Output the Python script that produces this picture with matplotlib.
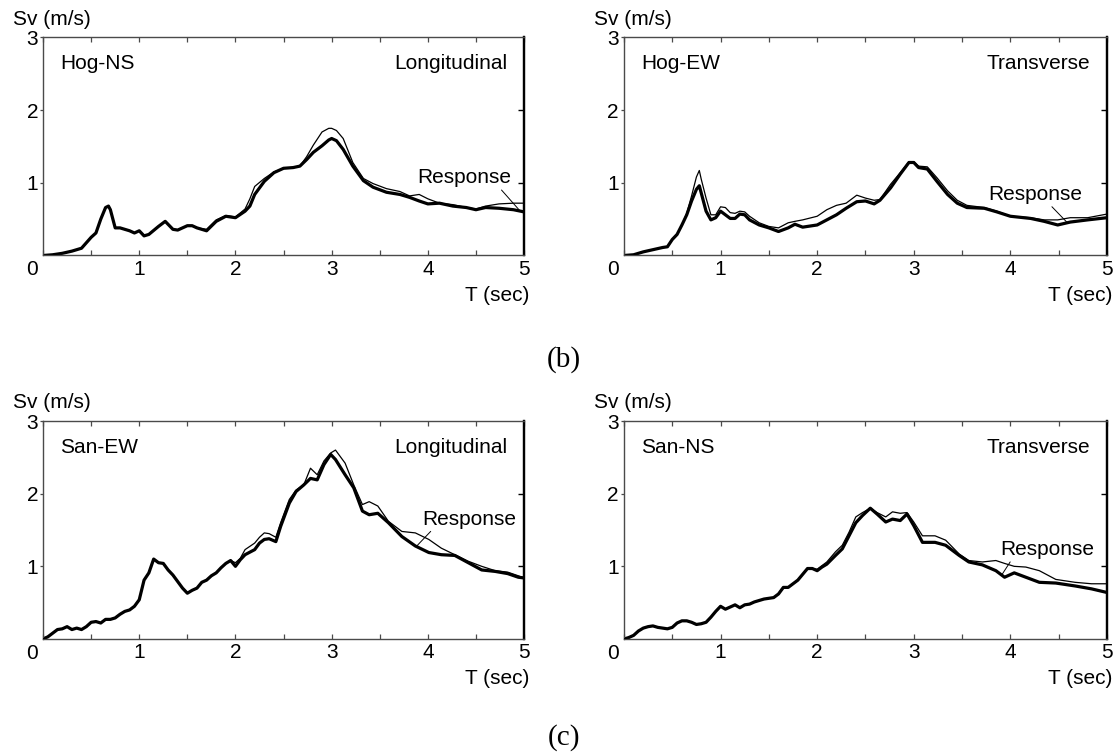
import matplotlib.pyplot as plt
from matplotlib.ticker import MultipleLocator, FixedLocator, NullFormatter
import numpy as np

plt.rcParams['font.family'] = ['Liberation Sans', 'DejaVu Sans']
plt.rcParams['font.size'] = 15

# Hog-NS record, longitudinal direction
hog_ns_t = [0, 0.1, 0.2, 0.3, 0.4, 0.5, 0.55, 0.6, 0.65, 0.68, 0.7, 0.75, 0.8, 0.85, 0.9,
            0.95, 1.0, 1.05, 1.1, 1.2, 1.27, 1.35, 1.4, 1.5, 1.55, 1.6, 1.7, 1.8, 1.9, 2.0,
            2.1, 2.15, 2.2, 2.3, 2.4, 2.5, 2.6, 2.67, 2.74, 2.81, 2.9, 2.97, 3.0, 3.05, 3.12,
            3.22, 3.33, 3.43, 3.57, 3.71, 3.81, 3.91, 4.0, 4.12, 4.26, 4.4, 4.5, 4.6, 4.74,
            4.89, 5.0]
hog_ns_resp = [0, 0.01, 0.03, 0.06, 0.1, 0.25, 0.31, 0.5, 0.66, 0.68, 0.63, 0.38, 0.38, 0.36, 0.34,
               0.31, 0.34, 0.27, 0.29, 0.4, 0.47, 0.36, 0.35, 0.41, 0.41, 0.38, 0.34, 0.47, 0.54, 0.52,
               0.61, 0.68, 0.84, 1.02, 1.14, 1.2, 1.21, 1.23, 1.32, 1.42, 1.51, 1.59, 1.61, 1.58, 1.46,
               1.23, 1.03, 0.94, 0.87, 0.84, 0.8, 0.75, 0.71, 0.72, 0.68, 0.66, 0.63, 0.66, 0.65,
               0.63, 0.6]
hog_ns_other = [0, 0.01, 0.03, 0.06, 0.1, 0.25, 0.31, 0.5, 0.66, 0.68, 0.63, 0.38, 0.38, 0.36, 0.34,
                0.31, 0.34, 0.27, 0.29, 0.4, 0.47, 0.36, 0.35, 0.41, 0.41, 0.38, 0.36, 0.49, 0.55, 0.53,
                0.64, 0.78, 0.95, 1.06, 1.15, 1.2, 1.21, 1.23, 1.36, 1.52, 1.7, 1.75, 1.75, 1.72, 1.61,
                1.28, 1.06, 0.99, 0.92, 0.88, 0.82, 0.84, 0.78, 0.72, 0.7, 0.66, 0.64, 0.68, 0.71,
                0.72, 0.72]

# Hog-EW record, transverse direction
hog_ew_t = [0, 0.1, 0.2, 0.3, 0.4, 0.45, 0.5, 0.55, 0.6, 0.65, 0.7, 0.75, 0.78, 0.8, 0.85,
            0.9, 0.95, 1.0, 1.05, 1.1, 1.15, 1.2, 1.25, 1.3, 1.4, 1.5, 1.6, 1.7, 1.77, 1.85,
            2.0, 2.1, 2.2, 2.3, 2.41, 2.5, 2.59, 2.65, 2.76, 2.86, 2.95, 3.0, 3.05, 3.14, 3.24,
            3.35, 3.45, 3.55, 3.73, 3.86, 4.0, 4.21, 4.35, 4.49, 4.62, 4.8, 5.0]
hog_ew_resp = [0, 0.01, 0.05, 0.08, 0.11, 0.12, 0.22, 0.29, 0.42, 0.56, 0.75, 0.91, 0.96, 0.86, 0.61,
               0.49, 0.52, 0.61, 0.56, 0.51, 0.51, 0.57, 0.56, 0.49, 0.42, 0.38, 0.33, 0.38, 0.43, 0.39,
               0.42, 0.49, 0.56, 0.65, 0.74, 0.75, 0.71, 0.76, 0.93, 1.12, 1.28, 1.28, 1.21, 1.19, 1.02,
               0.84, 0.72, 0.66, 0.65, 0.6, 0.54, 0.51, 0.47, 0.42, 0.46, 0.49, 0.52]
hog_ew_other = [0, 0.01, 0.05, 0.08, 0.11, 0.12, 0.22, 0.29, 0.42, 0.58, 0.82, 1.08, 1.17, 1.05, 0.79,
                0.56, 0.56, 0.67, 0.66, 0.59, 0.58, 0.61, 0.6, 0.54, 0.45, 0.4, 0.38, 0.45, 0.47, 0.49,
                0.54, 0.63, 0.69, 0.72, 0.83, 0.79, 0.76, 0.77, 0.98, 1.14, 1.29, 1.29, 1.23, 1.22, 1.07,
                0.89, 0.76, 0.69, 0.66, 0.61, 0.54, 0.52, 0.49, 0.49, 0.52, 0.52, 0.57]

# San-EW record, longitudinal direction
san_ew_t = [0, 0.05, 0.1, 0.15, 0.2, 0.25, 0.3, 0.35, 0.4, 0.45, 0.5, 0.55, 0.6, 0.65, 0.7,
            0.75, 0.8, 0.85, 0.9, 0.95, 1.0, 1.05, 1.1, 1.15, 1.2, 1.25, 1.3, 1.35, 1.4, 1.45,
            1.5, 1.55, 1.6, 1.65, 1.7, 1.75, 1.8, 1.85, 1.9, 1.95, 2.0, 2.05, 2.1, 2.2, 2.25,
            2.3, 2.35, 2.42, 2.47, 2.56, 2.63, 2.71, 2.78, 2.85, 2.92, 2.99, 3.04, 3.14, 3.23,
            3.32, 3.39, 3.48, 3.59, 3.73, 3.87, 4.01, 4.14, 4.28, 4.42, 4.56, 4.7, 4.83, 4.94, 5.0]
san_ew_resp = [0, 0.03, 0.08, 0.13, 0.14, 0.17, 0.13, 0.15, 0.13, 0.17, 0.23, 0.24, 0.22, 0.27, 0.27,
               0.29, 0.34, 0.38, 0.4, 0.45, 0.54, 0.81, 0.91, 1.1, 1.05, 1.04, 0.95, 0.88, 0.79, 0.7,
               0.63, 0.67, 0.7, 0.78, 0.81, 0.87, 0.91, 0.98, 1.04, 1.08, 1.0, 1.09, 1.16, 1.23, 1.32,
               1.37, 1.38, 1.34, 1.55, 1.87, 2.03, 2.12, 2.21, 2.19, 2.4, 2.54, 2.47, 2.26, 2.08,
               1.76, 1.71, 1.73, 1.6, 1.41, 1.28, 1.19, 1.16, 1.15, 1.05, 0.95, 0.93, 0.9, 0.85, 0.84]
san_ew_other = [0, 0.03, 0.08, 0.13, 0.14, 0.17, 0.13, 0.15, 0.13, 0.17, 0.23, 0.24, 0.22, 0.27, 0.27,
                0.29, 0.34, 0.38, 0.4, 0.45, 0.54, 0.81, 0.91, 1.1, 1.05, 1.04, 0.95, 0.88, 0.79, 0.7,
                0.63, 0.67, 0.7, 0.78, 0.81, 0.87, 0.91, 0.98, 1.04, 1.08, 1.05, 1.11, 1.23, 1.32, 1.4,
                1.46, 1.45, 1.4, 1.6, 1.92, 2.05, 2.12, 2.35, 2.26, 2.45, 2.56, 2.6, 2.42, 2.12,
                1.85, 1.89, 1.83, 1.62, 1.48, 1.46, 1.37, 1.25, 1.16, 1.07, 1.0, 0.94, 0.92, 0.87, 0.84]

# San-NS record, transverse direction
san_ns_t = [0, 0.05, 0.1, 0.15, 0.2, 0.25, 0.3, 0.35, 0.4, 0.45, 0.5, 0.55, 0.6, 0.65, 0.7,
            0.75, 0.8, 0.85, 0.9, 0.95, 1.0, 1.05, 1.1, 1.15, 1.2, 1.25, 1.3, 1.35, 1.4, 1.45,
            1.5, 1.55, 1.6, 1.65, 1.7, 1.75, 1.8, 1.85, 1.9, 1.95, 2.0, 2.05, 2.1, 2.19, 2.26,
            2.33, 2.4, 2.47, 2.55, 2.62, 2.71, 2.78, 2.86, 2.93, 3.0, 3.09, 3.22, 3.33, 3.47,
            3.57, 3.71, 3.85, 3.94, 4.04, 4.16, 4.3, 4.47, 4.67, 4.84, 5.0]
san_ns_resp = [0, 0.02, 0.05, 0.11, 0.15, 0.17, 0.18, 0.16, 0.15, 0.14, 0.16, 0.22, 0.25, 0.25, 0.23,
               0.2, 0.21, 0.23, 0.3, 0.38, 0.45, 0.41, 0.44, 0.47, 0.43, 0.47, 0.48, 0.51, 0.53, 0.55,
               0.56, 0.57, 0.62, 0.71, 0.71, 0.76, 0.81, 0.89, 0.97, 0.97, 0.94, 0.99, 1.03, 1.15, 1.24,
               1.42, 1.6, 1.7, 1.8, 1.72, 1.61, 1.65, 1.63, 1.72, 1.56, 1.33, 1.33, 1.29, 1.15,
               1.06, 1.02, 0.94, 0.85, 0.91, 0.85, 0.78, 0.77, 0.73, 0.69, 0.64]
san_ns_other = [0, 0.02, 0.05, 0.11, 0.15, 0.17, 0.18, 0.16, 0.15, 0.14, 0.16, 0.22, 0.25, 0.25, 0.23,
                0.2, 0.21, 0.23, 0.3, 0.38, 0.45, 0.41, 0.44, 0.47, 0.43, 0.47, 0.48, 0.51, 0.53, 0.55,
                0.56, 0.57, 0.62, 0.71, 0.71, 0.76, 0.81, 0.89, 0.97, 0.97, 0.96, 1.01, 1.06, 1.2, 1.29,
                1.47, 1.68, 1.74, 1.8, 1.74, 1.68, 1.75, 1.73, 1.74, 1.61, 1.42, 1.42, 1.36, 1.17,
                1.08, 1.06, 1.08, 1.04, 1.0, 0.99, 0.94, 0.82, 0.78, 0.76, 0.76]

SPINE = '#4a4a4a'


def draw_panel(ax, t, resp, other, name, direction, label_at, point_t, relpos):
    ax.plot(t, resp, color='black', lw=2.3, solid_joinstyle='round', zorder=2)
    ax.plot(t, other, color='black', lw=0.9, zorder=3)

    ax.set_xlim(0, 5)
    ax.set_ylim(0, 3)
    ax.xaxis.set_major_locator(FixedLocator([1, 2, 3, 4, 5]))
    ax.xaxis.set_minor_locator(MultipleLocator(0.5))
    ax.xaxis.set_minor_formatter(NullFormatter())
    ax.yaxis.set_major_locator(FixedLocator([1, 2, 3]))
    ax.tick_params(axis='x', which='both', direction='in', top=True, length=3.6,
                   width=0.9, color=SPINE, pad=3)
    ax.tick_params(axis='y', direction='out', length=2.4, width=0.9, color=SPINE, pad=1.2)

    for side in ('left', 'top', 'bottom'):
        ax.spines[side].set_color(SPINE)
        ax.spines[side].set_linewidth(1.0)
    ax.spines['right'].set_linewidth(1.6)

    sec = ax.secondary_yaxis('right')
    sec.set_yticks([1, 2])
    sec.tick_params(direction='in', length=4.3, width=1.0, labelright=False)
    sec.spines['right'].set_linewidth(1.6)

    # shared zero at the corner
    ax.annotate('0', xy=(0, 0), xycoords='axes fraction', xytext=(-3.6, -3.5),
                textcoords='offset points', ha='right', va='top')

    ax.text(0.035, 0.88, name, transform=ax.transAxes, ha='left', va='center')
    ax.text(0.965, 0.88, direction, transform=ax.transAxes, ha='right', va='center')
    ax.text(-0.062, 1.083, 'Sv (m/s)', transform=ax.transAxes, ha='left', va='center')
    ax.text(1.012, -0.183, 'T (sec)', transform=ax.transAxes, ha='right', va='center')

    point = (point_t, np.interp(point_t, t, resp))
    ax.annotate('Response', xy=point, xytext=label_at, ha='left', va='center',
                arrowprops=dict(arrowstyle='-', lw=0.7, color='black',
                                shrinkA=0, shrinkB=0, relpos=relpos))


fig = plt.figure(figsize=(11.15, 7.53), dpi=100)

ax1 = fig.add_axes([0.0386, 0.6607, 0.4314, 0.2895])
ax2 = fig.add_axes([0.5596, 0.6607, 0.4332, 0.2895])
ax3 = fig.add_axes([0.0386, 0.1514, 0.4314, 0.2895])
ax4 = fig.add_axes([0.5596, 0.1514, 0.4332, 0.2895])

draw_panel(ax1, hog_ns_t, hog_ns_resp, hog_ns_other, 'Hog-NS', 'Longitudinal',
           (3.89, 1.07), 4.96, (0.87, 0.0))
draw_panel(ax2, hog_ew_t, hog_ew_resp, hog_ew_other, 'Hog-EW', 'Transverse',
           (3.77, 0.84), 4.59, (0.65, 0.0))
draw_panel(ax3, san_ew_t, san_ew_resp, san_ew_other, 'San-EW', 'Longitudinal',
           (3.94, 1.65), 3.88, (0.12, 0.0))
draw_panel(ax4, san_ns_t, san_ns_resp, san_ns_other, 'San-NS', 'Transverse',
           (3.90, 1.23), 3.91, (0.12, 0.0))

fig.text(0.506, 0.522, '(b)', family='Liberation Serif', size=21, ha='center', va='center')
fig.text(0.506, 0.021, '(c)', family='Liberation Serif', size=21, ha='center', va='center')

fig.savefig('out.png', dpi=100)
